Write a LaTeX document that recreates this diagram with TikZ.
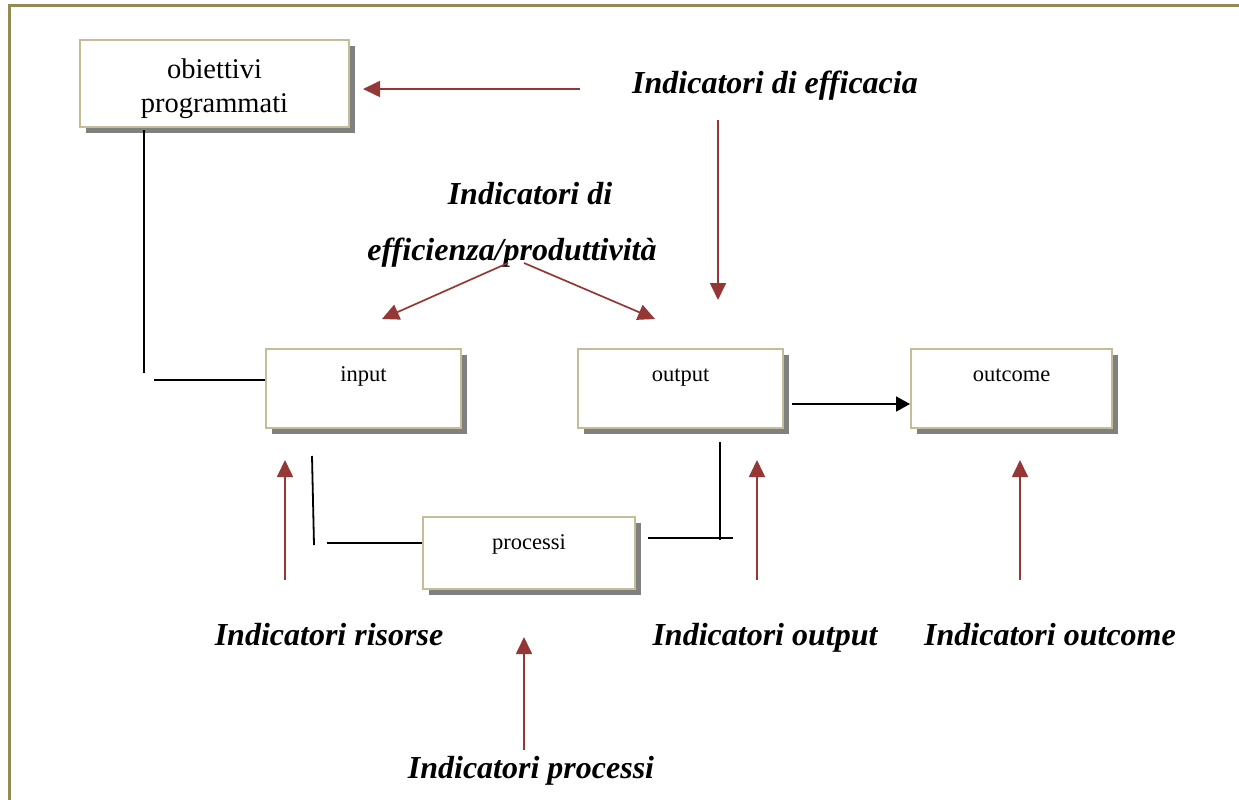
\documentclass[tikz,border=0pt]{standalone}
\usepackage{fontspec}
\setmainfont{Liberation Serif}
\usetikzlibrary{arrows.meta,shadows}
\definecolor{frameol}{HTML}{948A54}
\definecolor{boxline}{HTML}{C4BD97}
\definecolor{redarr}{HTML}{953735}
\definecolor{shade}{HTML}{808080}
\begin{document}
\begin{tikzpicture}[x=1pt,y=-1pt,
  box/.style={draw=boxline, line width=2pt, fill=white, rectangle, inner sep=0pt,
    drop shadow={shadow xshift=6pt, shadow yshift=-6pt, opacity=1, fill=shade},
    font=\fontsize{22.5}{27}\selectfont},
  ind/.style={font=\fontsize{32}{38}\selectfont\bfseries\itshape, inner sep=0pt, anchor=base},
  redarrow/.style={draw=redarr, line width=1.7pt, -{Triangle[length=17pt,width=16pt]}},
  blk/.style={draw=black, line width=1.8pt},
  blkarrow/.style={blk, -{Triangle[length=14pt,width=15pt]}}
]
\useasboundingbox (0,0) rectangle (1239,800);
\fill[white] (0,0) rectangle (1239,800);
\draw[frameol, line width=3pt] (9,820) -- (9,6) -- (1260,6);

% boxes
\node[box, minimum width=269pt, minimum height=87pt, align=center,
      font=\fontsize{28.5}{34}\selectfont, text height=60pt, text depth=3pt]
  (obj) at (214.5,83.5) {obiettivi\\programmati};
\node[box, minimum width=195pt, minimum height=79pt, text height=16pt, text depth=31pt]
  (input) at (363.5,388.5) {input};
\node[box, minimum width=205pt, minimum height=79pt, text height=16pt, text depth=31pt]
  (output) at (680.5,388.5) {output};
\node[box, minimum width=201pt, minimum height=79pt, text height=16pt, text depth=31pt]
  (outcome) at (1011.5,388.5) {outcome};
\node[box, minimum width=212pt, minimum height=72pt, text height=16pt, text depth=24pt]
  (processi) at (529,553) {processi};

% indicator texts
\node[ind] (ieff) at (775,93) {Indicatori di efficacia};
\node[ind] (iefa) at (530,204) {Indicatori di};
\node[ind] (iefb) at (512,260) {efficienza/produttività};
\node[ind] (iris) at (329,645) {Indicatori risorse};
\node[ind] (iout) at (765,645) {Indicatori output};
\node[ind] (ioutc) at (1050,645) {Indicatori outcome};
\node[ind] (iproc) at (531,778) {Indicatori processi};

% red arrow end points
\coordinate (r1s) at (580,89);  \coordinate (r1t) at (363,89);
\coordinate (r2s) at (718,120); \coordinate (r2t) at (718,300);
\coordinate (r3s) at (508,263); \coordinate (r3t) at (382,319);
\coordinate (r4s) at (524,263); \coordinate (r4t) at (655,319);
\coordinate (r5s) at (285,580); \coordinate (r5t) at (285,460);
\coordinate (r6s) at (757,580); \coordinate (r6t) at (757,460);
\coordinate (r7s) at (1020,580); \coordinate (r7t) at (1020,460);
\coordinate (r8s) at (524,750); \coordinate (r8t) at (524,637);

\draw[redarrow] (r1s) -- (r1t);
\draw[redarrow] (r2s) -- (r2t);
\draw[redarrow] (r3s) -- (r3t);
\draw[redarrow] (r4s) -- (r4t);
\draw[redarrow] (r5s) -- (r5t);
\draw[redarrow] (r6s) -- (r6t);
\draw[redarrow] (r7s) -- (r7t);
\draw[redarrow] (r8s) -- (r8t);

% black connectors
\coordinate (b1) at (144,373);
\draw[blk] (b1 |- obj.south) ++(0,2) -- (b1);
\coordinate (b2) at (154,380);
\draw[blk] (b2) -- (b2 -| input.west);
\coordinate (b3s) at (312,456); \coordinate (b3t) at (314,545);
\draw[blk] (b3s) -- (b3t);
\coordinate (b4) at (327,543);
\draw[blk] (b4) -- (b4 -| processi.west);
\coordinate (b5s) at (648,538); \coordinate (b5t) at (733,538);
\draw[blk] (b5s) -- (b5t);
\coordinate (b6s) at (720,442); \coordinate (b6t) at (720,540);
\draw[blk] (b6s) -- (b6t);
\coordinate (b7) at (792,404);
\draw[blkarrow] (b7) -- (b7 -| outcome.west);
\end{tikzpicture}
\end{document}
